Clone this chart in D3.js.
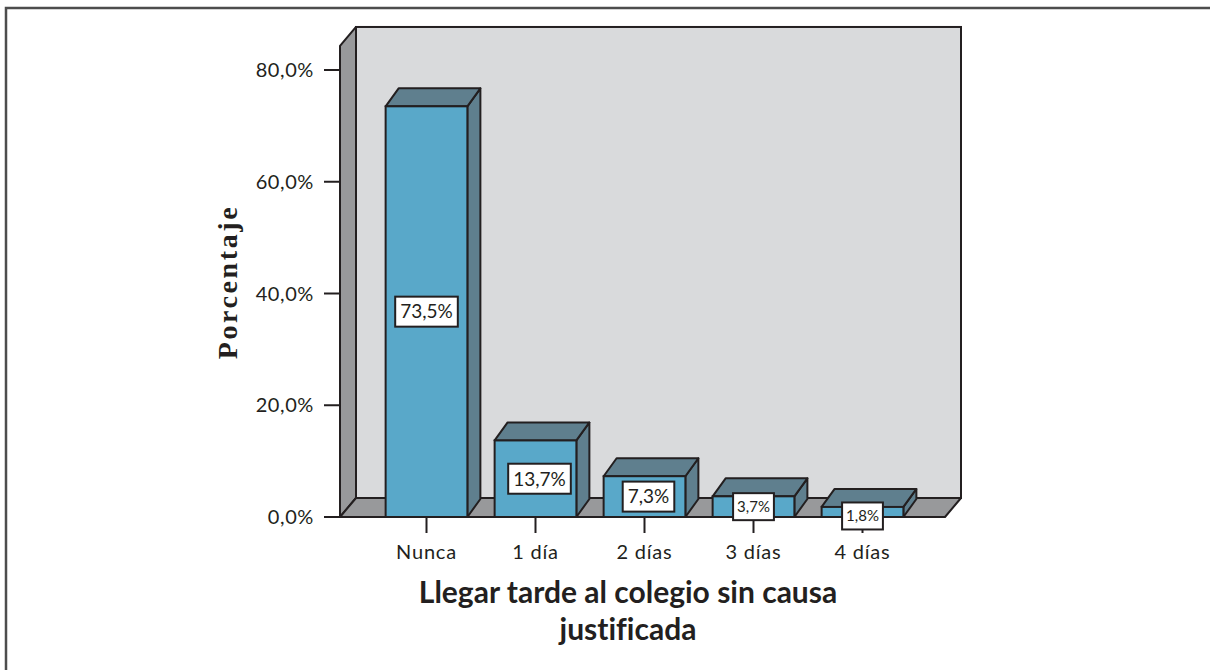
<!DOCTYPE html>
<html>
<head>
<meta charset="utf-8">
<script src="https://cdn.jsdelivr.net/npm/d3@7"></script>
<style>
  body { margin: 0; background: #fff; }
  svg { display: block; }
  text { font-variant-ligatures: none; }
</style>
</head>
<body>
<svg id="chart" width="1210" height="670"></svg>
<script>
// data
const categories = ["Nunca", "1 día", "2 días", "3 días", "4 días"];
const values = [73.5, 13.7, 7.3, 3.7, 1.8];
const yTicks = [0, 20, 40, 60, 80];
const yTitle = "Porcentaje";
const xTitle = ["Llegar tarde al colegio sin causa", "justificada"];

const svg = d3.select("#chart");
const ink = "#231f20";

// locale with comma decimals
const es = d3.formatLocale({decimal: ",", thousands: ".", grouping: [3], currency: ["", "€"]});
const fmt = es.format(".1f");

// plot geometry (front plane)
const x0 = 340, x1 = 945, yBase = 517;
const wallDx = 16, wallDy = -19;
const barDx = 13, barDy = -18;

const y = d3.scaleLinear().domain([0, 80]).range([yBase, 70]);
const x = d3.scaleBand().domain(categories)
    .range([372, 917]).paddingInner(0.25).paddingOuter(0.125);

const wallTop = y(84.3);

// frame
svg.append("path")
    .attr("d", "M6,670 L6,8 L1210,8")
    .attr("fill", "none").attr("stroke", "#4d4d4d").attr("stroke-width", 2.5);

// back wall
svg.append("rect")
    .attr("x", x0 + wallDx).attr("y", wallTop + wallDy)
    .attr("width", x1 - x0).attr("height", yBase - wallTop)
    .attr("fill", "#d9dadc").attr("stroke", ink).attr("stroke-width", 2);

// side wall
svg.append("polygon")
    .attr("points", [[x0, yBase], [x0, wallTop], [x0 + wallDx, wallTop + wallDy], [x0 + wallDx, yBase + wallDy]].join(" "))
    .attr("fill", "#98999b").attr("stroke", ink).attr("stroke-width", 2).attr("stroke-linejoin", "round");

// floor
svg.append("polygon")
    .attr("points", [[x0, yBase], [x1, yBase], [x1 + wallDx, yBase + wallDy], [x0 + wallDx, yBase + wallDy]].join(" "))
    .attr("fill", "#98999b").attr("stroke", ink).attr("stroke-width", 2).attr("stroke-linejoin", "round");

// y axis ticks and labels
const yAxis = svg.append("g");
yAxis.selectAll("line").data(yTicks).join("line")
    .attr("x1", 324).attr("x2", x0)
    .attr("y1", d => y(d)).attr("y2", d => y(d))
    .attr("stroke", ink).attr("stroke-width", 2);
yAxis.selectAll("text").data(yTicks).join("text")
    .attr("x", 314).attr("y", d => y(d))
    .attr("dy", "0.35em")
    .attr("text-anchor", "end")
    .attr("font-family", "Lato, 'Open Sans', sans-serif")
    .attr("font-size", 20)
    .attr("letter-spacing", 0.6)
    .attr("fill", ink)
    .text(d => fmt(d) + "%");

// x axis ticks and labels
const xAxis = svg.append("g");
xAxis.selectAll("line").data(categories).join("line")
    .attr("x1", d => x(d) + x.bandwidth() / 2).attr("x2", d => x(d) + x.bandwidth() / 2)
    .attr("y1", yBase).attr("y2", yBase + 16)
    .attr("stroke", ink).attr("stroke-width", 2);
xAxis.selectAll("text").data(categories).join("text")
    .attr("x", d => x(d) + x.bandwidth() / 2)
    .attr("y", 559)
    .attr("text-anchor", "middle")
    .attr("font-family", "Lato, 'Open Sans', sans-serif")
    .attr("font-size", 20)
    .attr("letter-spacing", 0.8)
    .attr("fill", ink)
    .text(d => d);

// bars
const bars = svg.append("g").selectAll("g").data(values).join("g");
bars.each(function(v, i) {
    const g = d3.select(this);
    const bx = x(categories[i]), bw = x.bandwidth();
    const top = y(v);
    // side
    g.append("polygon")
        .attr("points", [[bx + bw, yBase], [bx + bw, top], [bx + bw + barDx, top + barDy], [bx + bw + barDx, yBase + barDy]].join(" "))
        .attr("fill", "#5f7f8e").attr("stroke", ink).attr("stroke-width", 2).attr("stroke-linejoin", "round");
    // top
    g.append("polygon")
        .attr("points", [[bx, top], [bx + bw, top], [bx + bw + barDx, top + barDy], [bx + barDx, top + barDy]].join(" "))
        .attr("fill", "#5f7f8e").attr("stroke", ink).attr("stroke-width", 2).attr("stroke-linejoin", "round");
    // front
    g.append("rect")
        .attr("x", bx).attr("y", top).attr("width", bw).attr("height", yBase - top)
        .attr("fill", "#59a8c9").attr("stroke", ink).attr("stroke-width", 2);
});

// value labels
bars.each(function(v, i) {
    const g = d3.select(this);
    const cx = x(categories[i]) + x.bandwidth() / 2 + (v < 20 && v > 5 ? 4 : 0);
    const cy = y(v / 2) + (v < 3 ? 4 : 0);
    const small = v < 5;
    const box = g.append("rect")
        .attr("fill", "#fff").attr("stroke", ink).attr("stroke-width", 2);
    const t = g.append("text")
        .attr("x", cx).attr("y", cy).attr("dy", "0.36em")
        .attr("text-anchor", "middle")
        .attr("font-family", "Lato, 'Open Sans', sans-serif")
        .attr("font-size", small ? 15 : 19)
        .attr("fill", ink)
        .text(fmt(v) + "%");
    const bb = t.node().getBBox();
    const w = bb.width + (small ? 8 : 10), h = small ? 27 : 30;
    box.attr("x", cx - w / 2).attr("y", cy - h / 2).attr("width", w).attr("height", h);
});

// axis titles
svg.append("text")
    .attr("transform", "translate(237,282) rotate(-90)")
    .attr("text-anchor", "middle")
    .attr("font-family", "'Liberation Serif', 'DejaVu Serif', serif")
    .attr("font-weight", "bold")
    .attr("font-size", 28)
    .attr("letter-spacing", 2.6)
    .attr("fill", ink)
    .text(yTitle);

svg.append("text")
    .attr("text-anchor", "middle")
    .attr("font-family", "Lato, 'Open Sans', sans-serif")
    .attr("font-weight", "bold")
    .attr("font-size", 30)
    .attr("fill", ink)
    .selectAll("tspan").data(xTitle).join("tspan")
    .attr("x", 628)
    .attr("y", (d, i) => 603 + i * 37)
    .text(d => d);
</script>
</body>
</html>
